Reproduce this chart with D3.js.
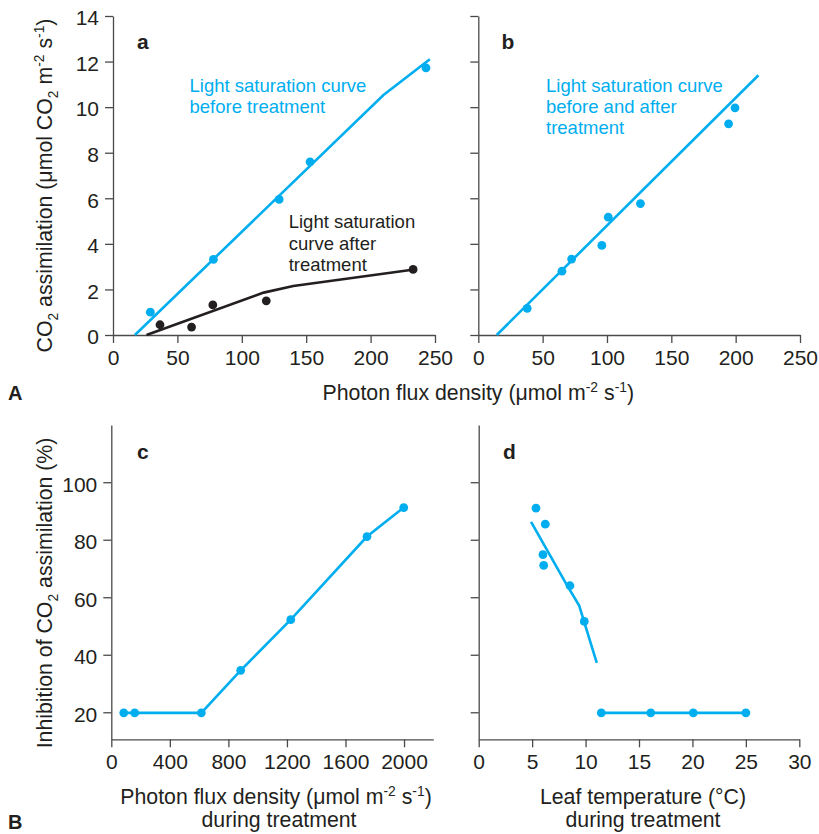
<!DOCTYPE html>
<html>
<head>
<meta charset="utf-8">
<script src="https://cdn.jsdelivr.net/npm/d3@7"></script>
<style>
  html, body { margin: 0; padding: 0; background: #fff; }
  svg { display: block; }
  text { font-family: "Liberation Sans", Arial, Helvetica, sans-serif; fill: #231f20; }
</style>
</head>
<body>
<svg id="chart" width="819" height="834"></svg>
<script>
// ---------- DATA ----------
// Panel a: before treatment (blue) and after treatment (black)
const aBlueX = [29, 78, 129, 153, 243];
const aBlueY = [1.0, 3.32, 5.95, 7.6, 11.72];
const aBlueLineX = [17, 210, 246];
const aBlueLineY = [0, 10.53, 12.1];
const aBlackX = [36.5, 61, 77.5, 119, 233];
const aBlackY = [0.45, 0.35, 1.32, 1.5, 2.88];
const aBlackLineX = [26, 117, 140, 231];
const aBlackLineY = [0, 1.86, 2.15, 2.85];
// Panel b: before and after treatment
const bX = [38, 65, 72.5, 96, 101, 126, 194.5, 199.5];
const bY = [1.17, 2.8, 3.33, 3.93, 5.17, 5.77, 9.27, 9.97];
const bLineX = [14.3, 217.7];
const bLineY = [0, 11.4];
// Panel c: inhibition vs photon flux density during treatment
const cX = [85, 160, 615, 884, 1226, 1747, 1998];
const cY = [19.8, 19.8, 19.8, 34.6, 52.2, 81.1, 91.2];
// Panel d: inhibition vs leaf temperature during treatment
const dX = [5.36, 6.23, 6.01, 6.08, 8.54, 9.88, 11.47, 16.1, 20.08, 25.0];
const dY = [91.0, 85.4, 74.8, 71.1, 64.0, 51.6, 19.8, 19.8, 19.8, 19.8];
const dLine1X = [4.9, 8.2, 9.4, 11.05];
const dLine1Y = [86.2, 64.6, 57.1, 37.2];
const dLine2X = [11.47, 25];
const dLine2Y = [19.8, 19.8];
// Ticks
const abXTicks = [0, 50, 100, 150, 200, 250];
const abYTicks = [0, 2, 4, 6, 8, 10, 12, 14];
const cXTicks = [0, 400, 800, 1200, 1600, 2000];
const cdYTicks = [20, 40, 60, 80, 100];
const dXTicks = [0, 5, 10, 15, 20, 25, 30];

// ---------- STYLE ----------
const BLUE = "rgb(0,174,239)";
const DARK = "#231f20";
const AXIS = "#4a4a4a";
const TICK_FS = 21;
const TITLE_FS = 21.3;
const NOTE_FS = 18.5;

const svg = d3.select("#chart");
svg.append("rect").attr("width", 819).attr("height", 834).attr("fill", "#fff");

const zip = (xs, ys) => xs.map((x, i) => [x, ys[i]]);
const fmt = d3.format("d");

function drawAxes(x, y, xTicks, yTicks, showYLabels) {
  const gx = svg.append("g").attr("transform", `translate(0,${y.range()[0]})`)
    .call(d3.axisBottom(x).tickValues(xTicks).tickFormat(fmt).tickSize(8).tickPadding(7).tickSizeOuter(0));
  const gy = svg.append("g").attr("transform", `translate(${x.range()[0]},0)`)
    .call(d3.axisLeft(y).tickValues(yTicks).tickFormat(fmt).tickSize(8).tickPadding(6).tickSizeOuter(0));
  [gx, gy].forEach(g => {
    g.select(".domain").attr("stroke", AXIS).attr("stroke-width", 1.3);
    g.selectAll(".tick line").attr("stroke", AXIS).attr("stroke-width", 1.3);
    g.selectAll(".tick text").attr("font-size", TICK_FS).attr("fill", DARK)
      .attr("font-family", '"Liberation Sans", Arial, Helvetica, sans-serif');
  });
  gy.selectAll(".tick text").attr("dy", "0.42em");
  if (!showYLabels) gy.selectAll(".tick text").remove();
}

function drawLine(x, y, pts, color, width) {
  svg.append("path").datum(pts)
    .attr("fill", "none").attr("stroke", color).attr("stroke-width", width)
    .attr("d", d3.line().x(d => x(d[0])).y(d => y(d[1])));
}
function drawDots(x, y, pts, color) {
  svg.append("g").selectAll("circle").data(pts).join("circle")
    .attr("cx", d => x(d[0])).attr("cy", d => y(d[1])).attr("r", 4.4).attr("fill", color);
}
function note(xp, yp, lines, color, lh) {
  const t = svg.append("text").attr("font-size", NOTE_FS).style("fill", color);
  lines.forEach((l, i) => t.append("tspan").attr("x", xp).attr("y", yp + i * lh).text(l));
}
function rich(t, parts, size) {
  let shift = 0;
  parts.forEach(p => {
    const ts = t.append("tspan").text(p.t);
    const target = p.sub ? size * 0.3 : p.sup ? -size * 0.38 : 0;
    const dy = target - shift;
    if (dy !== 0) ts.attr("dy", dy);
    shift = target;
    if (p.sub || p.sup) ts.attr("font-size", size * 0.65);
  });
}
function panelLetter(xp, yp, s) {
  svg.append("text").attr("x", xp).attr("y", yp).attr("font-size", 21)
    .attr("font-weight", "bold").text(s);
}

// ---------- PANEL a ----------
const xa = d3.scaleLinear().domain([0, 250]).range([113, 435]);
const ya = d3.scaleLinear().domain([0, 14]).range([335, 16]);
drawAxes(xa, ya, abXTicks, abYTicks, true);
drawLine(xa, ya, zip(aBlueLineX, aBlueLineY), BLUE, 2.6);
drawDots(xa, ya, zip(aBlueX, aBlueY), BLUE);
drawLine(xa, ya, zip(aBlackLineX, aBlackLineY), DARK, 2.6);
drawDots(xa, ya, zip(aBlackX, aBlackY), DARK);
note(189.5, 92.3, ["Light saturation curve", "before treatment"], BLUE, 21);
note(288.7, 228.3, ["Light saturation", "curve after", "treatment"], DARK, 21.2);
panelLetter(137, 49, "a");

// ---------- PANEL b ----------
const xb = d3.scaleLinear().domain([0, 250]).range([478.3, 800]);
const yb = d3.scaleLinear().domain([0, 14]).range([335, 16]);
drawAxes(xb, yb, abXTicks, abYTicks, false);
drawLine(xb, yb, zip(bLineX, bLineY), BLUE, 2.6);
drawDots(xb, yb, zip(bX, bY), BLUE);
note(546, 91.7, ["Light saturation curve", "before and after", "treatment"], BLUE, 21);
panelLetter(501.5, 49, "b");

// ---------- PANEL c ----------
const xc = d3.scaleLinear().domain([0, 2200]).range([111.3, 433.3]);
const yc = d3.scaleLinear().domain([10.6, 119.9]).range([739.3, 425]);
drawAxes(xc, yc, cXTicks, cdYTicks, true);
drawLine(xc, yc, zip(cX, cY), BLUE, 2.6);
drawDots(xc, yc, zip(cX, cY), BLUE);
panelLetter(137, 459, "c");

// ---------- PANEL d ----------
const xd = d3.scaleLinear().domain([0, 30]).range([478.7, 799.3]);
const yd = d3.scaleLinear().domain([10.6, 119.9]).range([739.3, 425]);
drawAxes(xd, yd, dXTicks, cdYTicks, false);
drawLine(xd, yd, zip(dLine1X, dLine1Y), BLUE, 2.6);
drawLine(xd, yd, zip(dLine2X, dLine2Y), BLUE, 2.6);
drawDots(xd, yd, zip(dX, dY), BLUE);
panelLetter(503, 459, "d");

// ---------- TITLES ----------
const yt1 = svg.append("text").attr("font-size", TITLE_FS).attr("text-anchor", "middle")
  .attr("transform", "translate(52,185.5) rotate(-90)");
rich(yt1, [{t: "CO"}, {t: "2", sub: true}, {t: " assimilation (μmol CO"}, {t: "2", sub: true},
  {t: " m"}, {t: "-2", sup: true}, {t: " s"}, {t: "-1", sup: true}, {t: ")"}], TITLE_FS);

const yt2 = svg.append("text").attr("font-size", TITLE_FS).attr("text-anchor", "middle")
  .attr("transform", "translate(52,593) rotate(-90)");
rich(yt2, [{t: "Inhibition of CO"}, {t: "2", sub: true}, {t: " assimilation (%)"}], TITLE_FS);

const xt1 = svg.append("text").attr("font-size", TITLE_FS).attr("text-anchor", "middle")
  .attr("x", 478.3).attr("y", 400);
rich(xt1, [{t: "Photon flux density (μmol m"}, {t: "-2", sup: true}, {t: " s"}, {t: "-1", sup: true}, {t: ")"}], TITLE_FS);

const xt2 = svg.append("text").attr("font-size", TITLE_FS).attr("text-anchor", "middle")
  .attr("x", 276).attr("y", 804);
rich(xt2, [{t: "Photon flux density (μmol m"}, {t: "-2", sup: true}, {t: " s"}, {t: "-1", sup: true}, {t: ")"}], TITLE_FS);
svg.append("text").attr("font-size", TITLE_FS).attr("text-anchor", "middle")
  .attr("x", 279).attr("y", 827).text("during treatment");

svg.append("text").attr("font-size", TITLE_FS).attr("text-anchor", "middle")
  .attr("x", 643).attr("y", 804).text("Leaf temperature (°C)");
svg.append("text").attr("font-size", TITLE_FS).attr("text-anchor", "middle")
  .attr("x", 643).attr("y", 827).text("during treatment");

svg.append("text").attr("x", 8).attr("y", 399.5).attr("font-size", 20).attr("font-weight", "bold").text("A");
svg.append("text").attr("x", 8).attr("y", 829).attr("font-size", 20).attr("font-weight", "bold").text("B");
</script>
</body>
</html>
